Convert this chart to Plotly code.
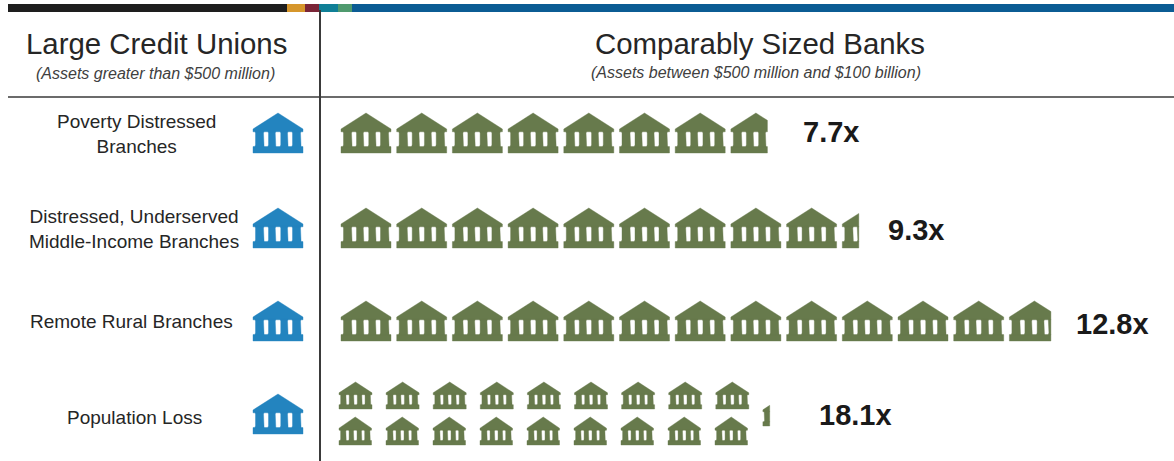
import math
import plotly.graph_objects as go

# Branch access ratios: banks' branches per credit union branch
categories = [
    "Poverty Distressed<br>Branches",
    "Distressed, Underserved<br>Middle-Income Branches",
    "Remote Rural Branches",
    "Population Loss",
]
ratios = [7.7, 9.3, 12.8, 18.1]
ratio_labels = ["7.7x", "9.3x", "12.8x", "18.1x"]

left_title = "Large Credit Unions"
left_subtitle = "(Assets greater than $500 million)"
right_title = "Comparably Sized Banks"
right_subtitle = "(Assets between $500 million and $100 billion)"

CREDIT_UNION_BLUE = "#2384BF"
BANK_GREEN = "#677A4C"
INK = "#262626"
RULE = "#3A3A3A"

# Bank building in unit coordinates, y measured downward from the roof apex
ROOF = [(0.5, 0.0), (1.0, 0.40), (1.0, 0.47), (0.0, 0.47), (0.0, 0.40)]
COLUMN_SPANS = [(0.05, 0.21), (0.31, 0.445), (0.555, 0.69), (0.79, 0.95)]
FLARE = 0.012
COLUMNS = [
    [(a - FLARE, 0.46), (b + FLARE, 0.46), (b, 0.50), (b, 0.79), (b + FLARE, 0.85),
     (a - FLARE, 0.85), (a, 0.79), (a, 0.50)]
    for a, b in COLUMN_SPANS
]
BASE = [(0.0, 0.84), (1.0, 0.84), (1.0, 1.0), (0.0, 1.0)]
PIECES = [ROOF, *COLUMNS, BASE]


def clip_right(poly, limit):
    """Keep the part of a polygon lying left of x = limit."""
    out = []
    for i, (x0, y0) in enumerate(poly):
        x1, y1 = poly[(i + 1) % len(poly)]
        if x0 <= limit:
            out.append((x0, y0))
        if (x0 <= limit) != (x1 <= limit):
            t = (limit - x0) / (x1 - x0)
            out.append((limit, y0 + t * (y1 - y0)))
    return out


def building(x, y, w, h, keep=1.0):
    """Outline of one building, optionally cut to its left `keep` share."""
    xs, ys = [], []
    for piece in PIECES:
        pts = piece if keep >= 1 else clip_right(piece, keep)
        if not pts:
            continue
        pts = pts + [pts[0]]
        xs += [x + px * w for px, _ in pts] + [None]
        ys += [y + py * h for _, py in pts] + [None]
    return xs, ys


def row_of_buildings(count, x0, pitch, y, w, h):
    xs, ys = [], []
    for i in range(count):
        a, b = building(x0 + i * pitch, y, w, h)
        xs += a
        ys += b
    return xs, ys


fig = go.Figure()


def add_filled(xs, ys, color):
    fig.add_trace(go.Scatter(x=xs, y=ys, mode="lines", fill="toself", fillcolor=color,
                             line=dict(color=color, width=0.4), hoverinfo="skip", showlegend=False))


ICON_W, ICON_H = 50, 40
PITCH = 55.7
BANK_X = 341
ROW_TOPS = [113, 208, 301, 394]
STACK_LIMIT = 15  # above this, buildings are drawn smaller in two rows

blue_x, blue_y, green_x, green_y = [], [], [], []
for value, top in zip(ratios, ROW_TOPS):
    a, b = building(253, top, ICON_W, ICON_H)
    blue_x += a
    blue_y += b

    whole = math.floor(value)
    part = value - whole
    if value <= STACK_LIMIT:
        a, b = row_of_buildings(whole, BANK_X, PITCH, top, ICON_W, ICON_H)
        green_x += a
        green_y += b
        keep = part + 1.5 / ICON_W
        a, b = building(BANK_X + whole * PITCH, top, ICON_W, ICON_H, keep)
        green_x += a
        green_y += b
    else:
        per_row = whole // 2
        a, b = row_of_buildings(per_row, 339, 47.1, 382, 33, 27)
        green_x += a
        green_y += b
        a, b = row_of_buildings(per_row, 339, 47.0, 417, 32.5, 28)
        green_x += a
        green_y += b
        keep = part + 3.5 / 33
        a, b = building(339 + per_row * 47.1, 399, 33, 27, keep)
        green_x += a
        green_y += b

add_filled(blue_x, blue_y, CREDIT_UNION_BLUE)
add_filled(green_x, green_y, BANK_GREEN)

# Multi-coloured rule across the top of the table
band_edges = [8, 287, 305, 319, 338, 352, 1174]
band_colors = ["#1E1E1E", "#D6962B", "#7A2537", "#0F7F96", "#4F9A6E", "#0B5C94"]
shapes = [
    dict(type="rect", xref="x", yref="y", x0=band_edges[i], x1=band_edges[i + 1], y0=4, y1=12,
         fillcolor=c, line_width=0, layer="above")
    for i, c in enumerate(band_colors)
]
shapes += [
    dict(type="line", xref="x", yref="y", x0=8, x1=1174, y0=97, y1=97, line=dict(color=RULE, width=1.6)),
    dict(type="line", xref="x", yref="y", x0=320, x1=320, y0=10, y1=461, line=dict(color=RULE, width=2)),
]

SANS = "Liberation Sans, Arial, sans-serif"


def label(x, y, text, size, bold=False, italic=False, color=INK):
    body = text
    if bold:
        body = f"<b>{body}</b>"
    if italic:
        body = f"<i>{body}</i>"
    fig.add_annotation(x=x, y=y, xref="x", yref="y", text=body, showarrow=False, align="center",
                       xanchor="center", yanchor="middle",
                       font=dict(family=SANS, size=size, color=color))


label(156, 43, left_title, 29.4)
label(155, 73, left_subtitle, 16, italic=True, color="#404040")
label(760, 43, right_title, 29.4)
label(756, 72, right_subtitle, 16, italic=True, color="#404040")

label_centers = [(136, 134), (134, 229), (131, 321), (134, 417)]
for text, (x, y) in zip(categories, label_centers):
    label(x, y, text, 19)

value_centers = [(831, 132), (916, 230), (1112, 324), (855, 415)]
for text, (x, y) in zip(ratio_labels, value_centers):
    label(x, y, text, 29, bold=True, color="#1A1A1A")

fig.update_layout(
    width=1174, height=461, margin=dict(l=0, r=0, t=0, b=0),
    paper_bgcolor="white", plot_bgcolor="white", showlegend=False, shapes=shapes,
    xaxis=dict(range=[0, 1174], visible=False, fixedrange=True),
    yaxis=dict(range=[461, 0], visible=False, fixedrange=True),
)
fig.write_html("out.html", config={"displayModeBar": False})
